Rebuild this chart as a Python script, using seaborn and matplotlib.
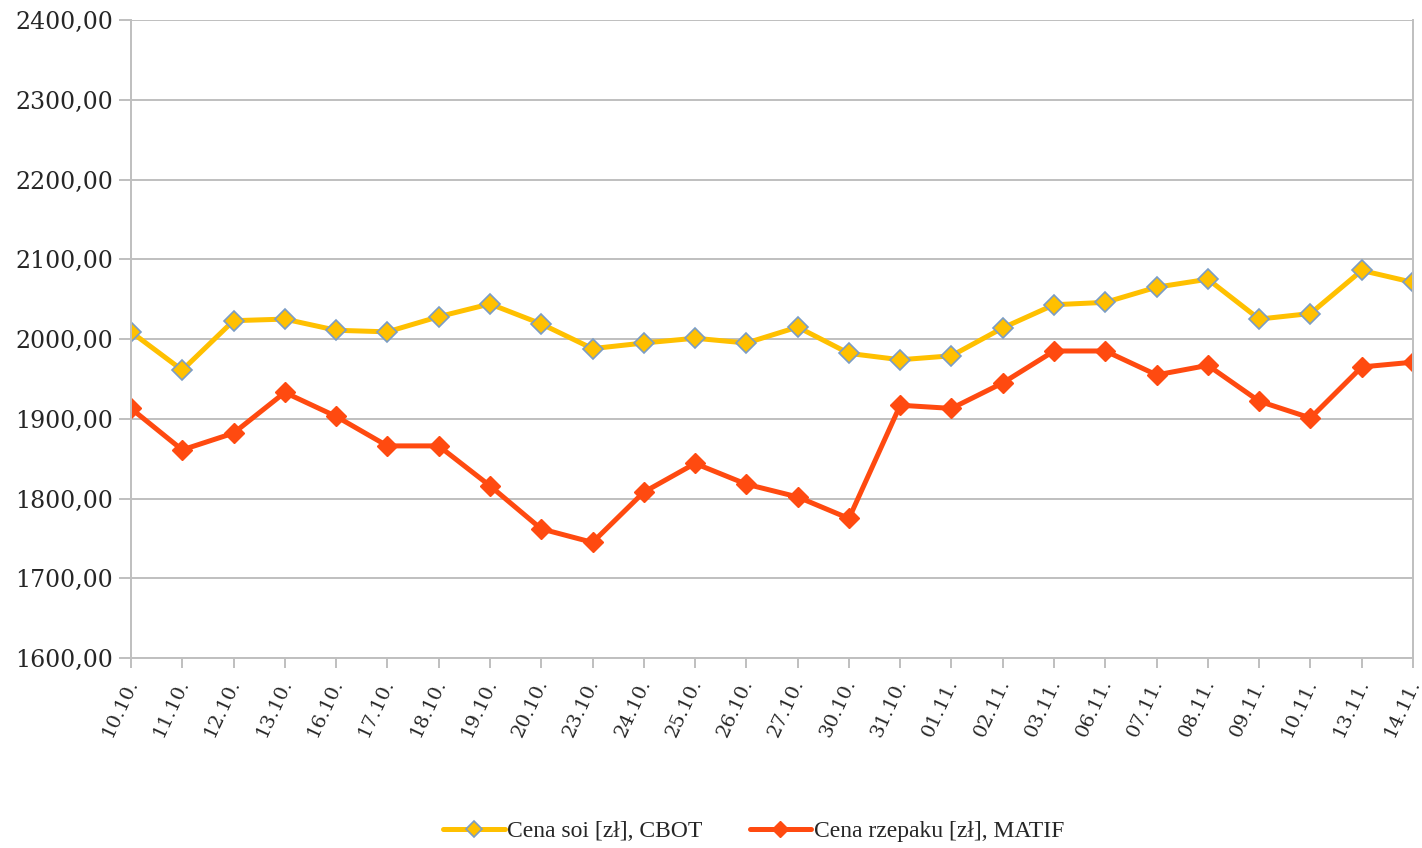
import numpy as np
import pandas as pd
import matplotlib
matplotlib.use("Agg")
import matplotlib.pyplot as plt
import matplotlib.transforms as mtrans
import seaborn as sns
from matplotlib.ticker import FuncFormatter, MultipleLocator

dates = ["10.10.", "11.10.", "12.10.", "13.10.", "16.10.", "17.10.", "18.10.",
         "19.10.", "20.10.", "23.10.", "24.10.", "25.10.", "26.10.", "27.10.",
         "30.10.", "31.10.", "01.11.", "02.11.", "03.11.", "06.11.", "07.11.",
         "08.11.", "09.11.", "10.11.", "13.11.", "14.11."]

soja = [2009, 1961, 2023, 2025, 2011, 2009, 2028, 2044, 2019, 1988, 1995, 2001,
        1995, 2015, 1982, 1974, 1979, 2014, 2043, 2046, 2065, 2075, 2025, 2032,
        2086, 2071]

rzepak = [1913, 1861, 1882, 1933, 1903, 1866, 1866, 1816, 1762, 1745, 1808, 1844,
          1818, 1802, 1775, 1917, 1913, 1945, 1985, 1985, 1955, 1967, 1922, 1901,
          1965, 1971]

labels = ["Cena soi [zł], CBOT", "Cena rzepaku [zł], MATIF"]
colors = ["#FFC000", "#FF4A10"]

sns.set_style("white")
plt.rcParams['font.family'] = ['DejaVu Serif']

pos = np.arange(len(dates))
fig = plt.figure(figsize=(14.22, 8.48), dpi=100)
ax = fig.add_axes([0.0921, 0.224, 0.9016, 0.7524])

sns.lineplot(x=pos, y=soja, ax=ax, color=colors[0], linewidth=3.6, marker="D",
             markersize=10.5, markeredgecolor="#7A9CC6", markeredgewidth=1.2,
             label=labels[0], legend=False)
sns.lineplot(x=pos, y=rzepak, ax=ax, color=colors[1], linewidth=3.6, marker="D",
             markersize=10.5, markeredgecolor=colors[1], markeredgewidth=1.0,
             label=labels[1], legend=False)

ax.set_xlim(0, len(dates) - 1)
ax.set_ylim(1600, 2400)
ax.yaxis.set_major_locator(MultipleLocator(100))
ax.yaxis.set_major_formatter(FuncFormatter(lambda v, p: f"{v:.2f}".replace(".", ",")))
ax.set_xticks(pos)
ax.set_xticklabels(dates, rotation=65, ha="right", rotation_mode="anchor")

ax.grid(axis="y", color="#BFBFBF", linewidth=1.4)
ax.set_axisbelow(True)
for s in ax.spines.values():
    s.set_color("#BFBFBF")
    s.set_linewidth(1.4)
ax.spines["top"].set_visible(False)

ax.tick_params(axis="y", length=9, width=1.4, color="#BFBFBF", labelsize=17, pad=4, left=True)
ax.tick_params(axis="x", length=7, width=1.4, color="#BFBFBF", labelsize=14, pad=6, bottom=True)
ax.set_xlabel("")
ax.set_ylabel("")

# przesuniecie etykiet dat troche w lewo, zeby ostatnia sie miescila
shift = mtrans.ScaledTranslation(-6 / 100, 0, fig.dpi_scale_trans)
for lbl in ax.get_xticklabels():
    lbl.set_transform(lbl.get_transform() + shift)

handles, labs = ax.get_legend_handles_labels()
fig.legend(handles, labs, loc="center", bbox_to_anchor=(0.53, 0.02), ncol=2, frameon=False,
           prop={"family": "Liberation Serif", "size": 17}, handlelength=2.6,
           handletextpad=0.1, columnspacing=2.0, markerscale=0.8)

plt.savefig("out.png", dpi=100)
